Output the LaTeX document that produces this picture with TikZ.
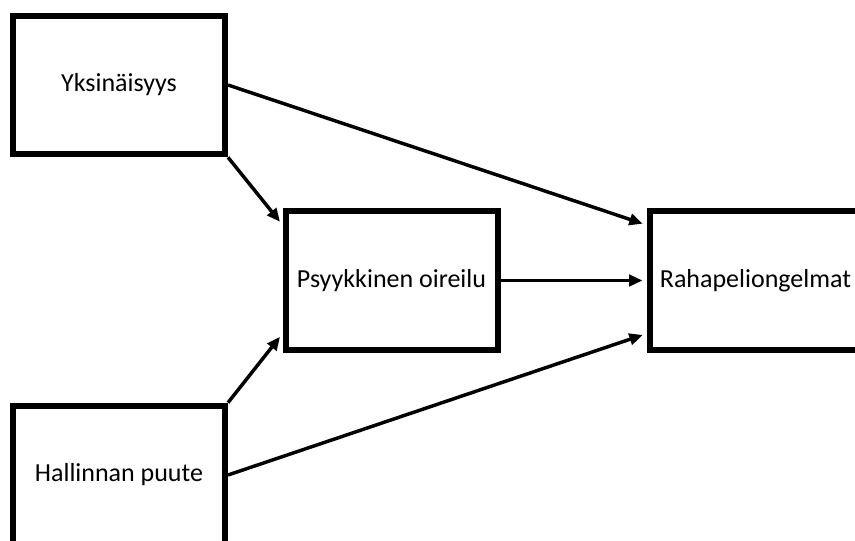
\documentclass[tikz,border=0pt]{standalone}
\usepackage{fontspec}
\setmainfont{Carlito}
\usetikzlibrary{arrows.meta}
\begin{document}
\begin{tikzpicture}[x=0.75pt,y=-0.75pt,
  box/.style={draw,line width=4.5pt,inner sep=0pt,minimum width=159pt,minimum height=104pt,font=\fontsize{19.5}{23}\selectfont},
  arr/.style={line width=2.6pt,-{Triangle[length=10pt,width=8.5pt]},shorten >=3pt}]
\useasboundingbox (0,0) rectangle (855,541);
\clip (0,0) rectangle (855,541);

\node[box] (yks) at (119,85) {Yksinäisyys};
\node[box] (psy) at (391.5,280.5) {Psyykkinen oireilu};
\node[box] (raha) at (755.5,280.5) {Rahapeliongelmat};
\node[box] (hal) at (119,475) {Hallinnan puute};

\draw[arr] (yks.south east) -- (psy.153);
\draw[arr] (hal.north east) -- (psy.206);
\draw[arr] (yks.east) -- (raha.153);
\draw[arr] (psy.east) -- (raha.west);
\draw[arr] (hal.east) -- (raha.206);
\end{tikzpicture}
\end{document}
